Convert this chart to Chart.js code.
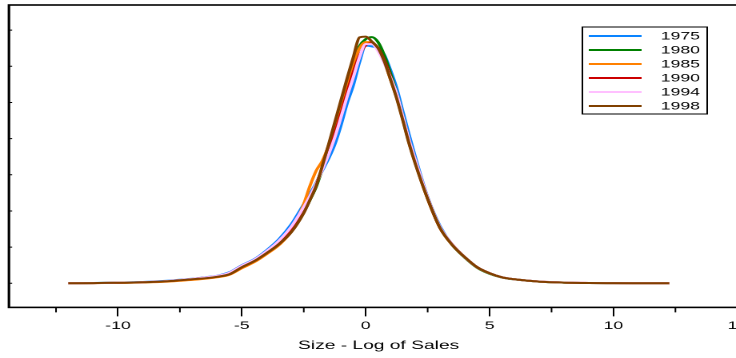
<!DOCTYPE html>
<html><head><meta charset="utf-8">
<script src="https://cdn.jsdelivr.net/npm/chart.js@4/dist/chart.umd.min.js"></script>
<style>
html,body{margin:0;padding:0;overflow:hidden;background:#fff;width:736px;height:358px}
#wrap{position:absolute;left:0;top:0;width:470px;height:358px;transform:scaleX(1.6);transform-origin:0 0}
</style></head>
<body><div id="wrap"><canvas id="c" width="470" height="358"></canvas></div>
<script>
const xValues = [-12,-11,-10,-9,-8,-7.5,-7,-6.5,-6,-5.5,-5,-4.5,-4,-3.5,-3,-2.5,-2.25,-2,-1.75,-1.5,-1.25,-1,-0.75,-0.5,-0.25,0,0.25,0.5,0.75,1,1.25,1.5,1.75,2,2.5,3,3.5,4,4.5,5,5.5,6,7,8,9,10,11,12.25];
const years = ['1975','1980','1985','1990','1994','1998'];
const colors = ['#0A84FF','#008000','#FF8000','#CC0000','#FFC0FF','#804000'];
const s1975 = [0,0.0004,0.0010,0.0018,0.0035,0.0049,0.0063,0.0083,0.0104,0.0153,0.0250,0.0333,0.0458,0.0611,0.0819,0.1097,0.1236,0.1389,0.1556,0.1722,0.1917,0.2181,0.2486,0.2736,0.3056,0.3285,0.3275,0.3250,0.3160,0.2950,0.2700,0.2375,0.2056,0.1750,0.1194,0.0792,0.0528,0.0361,0.0222,0.0139,0.0083,0.0056,0.0024,0.0010,0.0004,0.0002,0.0001,0];
const s1980 = [0,0.0003,0.0007,0.0014,0.0029,0.0042,0.0056,0.0072,0.0094,0.0132,0.0229,0.0313,0.0424,0.0556,0.0722,0.0986,0.1153,0.1333,0.1583,0.1861,0.2139,0.2417,0.2736,0.3042,0.3278,0.3375,0.3403,0.3333,0.3153,0.2903,0.2625,0.2306,0.1972,0.1694,0.1180,0.0771,0.0528,0.0354,0.0215,0.0132,0.0080,0.0054,0.0023,0.0010,0.0004,0.0002,0.0001,0];
const s1985 = [0,0.0002,0.0006,0.0012,0.0024,0.0035,0.0047,0.0063,0.0083,0.0118,0.0208,0.0292,0.0403,0.0528,0.0722,0.1097,0.1347,0.1556,0.1694,0.1903,0.2181,0.2458,0.2764,0.3042,0.3250,0.3333,0.3333,0.3222,0.3056,0.2819,0.2569,0.2264,0.1944,0.1667,0.1167,0.0764,0.0528,0.0361,0.0222,0.0139,0.0083,0.0056,0.0024,0.0010,0.0004,0.0002,0.0001,0];
const s1990 = [0,0.0003,0.0008,0.0015,0.0031,0.0045,0.0060,0.0078,0.0099,0.0143,0.0240,0.0319,0.0438,0.0583,0.0764,0.1028,0.1194,0.1375,0.1583,0.1819,0.2069,0.2347,0.2639,0.2917,0.3153,0.3292,0.3319,0.3250,0.3083,0.2861,0.2597,0.2292,0.1972,0.1694,0.1180,0.0771,0.0535,0.0361,0.0222,0.0139,0.0083,0.0056,0.0025,0.0011,0.0005,0.0002,0.0001,0];
const s1994 = [0,0.0003,0.0009,0.0016,0.0032,0.0046,0.0061,0.0080,0.0101,0.0147,0.0243,0.0326,0.0444,0.0590,0.0785,0.1056,0.1208,0.1375,0.1569,0.1778,0.2014,0.2292,0.2583,0.2847,0.3125,0.3306,0.3306,0.3208,0.3042,0.2847,0.2625,0.2306,0.1986,0.1708,0.1187,0.0778,0.0535,0.0361,0.0222,0.0139,0.0083,0.0056,0.0025,0.0011,0.0005,0.0002,0.0001,0];
const s1998 = [0,0.0003,0.0007,0.0014,0.0028,0.0042,0.0056,0.0069,0.0090,0.0125,0.0222,0.0306,0.0417,0.0542,0.0708,0.0972,0.1153,0.1347,0.1625,0.1917,0.2222,0.2528,0.2833,0.3125,0.3400,0.3410,0.3340,0.3250,0.3069,0.2819,0.2556,0.2250,0.1931,0.1653,0.1167,0.0764,0.0528,0.0361,0.0222,0.0139,0.0083,0.0056,0.0024,0.0010,0.0004,0.0002,0.0001,0];
const xTickValues = [-10,-5,0,5,10,15];
const xMinorTicks = [-12.5,-7.5,-2.5,2.5,7.5,12.5];
const yTickValues = [0,0.05,0.1,0.15,0.2,0.25,0.3,0.35];
const xTitle = 'Size - Log of Sales';

const series = [s1975,s1980,s1985,s1990,s1994,s1998];
const FONT = 'Liberation Sans, Arial, Helvetica, sans-serif';

const datasets = series.map((s,i)=>({
  label: years[i],
  data: xValues.map((x,j)=>({x:x,y:s[j]})),
  borderColor: colors[i],
  backgroundColor: colors[i],
  borderWidth: 2,
  pointRadius: 0,
  fill: false,
  cubicInterpolationMode: 'monotone',
  order: series.length-1-i
}));

const framePlugin = {
  id:'frame',
  afterDraw(chart){
    const ctx = chart.ctx, a = chart.chartArea;
    const xs = chart.scales.x, ys = chart.scales.y;
    ctx.save();
    ctx.strokeStyle = '#000';
    ctx.lineWidth = 1.6;
    ctx.strokeRect(a.left, a.top, a.right-a.left, a.bottom-a.top);
    ctx.lineWidth = 1;
    ctx.beginPath();
    xMinorTicks.forEach(v=>{
      const px = xs.getPixelForValue(v);
      ctx.moveTo(px, a.bottom); ctx.lineTo(px, a.bottom+5);
    });
    yTickValues.forEach(v=>{
      const py = ys.getPixelForValue(v);
      ctx.moveTo(a.left, py); ctx.lineTo(a.left+2, py);
    });
    ctx.stroke();
    // legend
    const bx = 364, by = 27, bw = 78, bh = 87;
    ctx.fillStyle = '#fff';
    ctx.fillRect(bx, by, bw, bh);
    ctx.lineWidth = 1;
    ctx.strokeStyle = '#000';
    ctx.strokeRect(bx, by, bw, bh);
    ctx.font = '11px ' + FONT;
    ctx.textAlign = 'right';
    ctx.textBaseline = 'middle';
    chart.data.datasets.forEach((d,i)=>{
      const y = 36 + 14*i;
      ctx.strokeStyle = d.borderColor;
      ctx.lineWidth = 2;
      ctx.beginPath(); ctx.moveTo(368, y); ctx.lineTo(401, y); ctx.stroke();
      ctx.fillStyle = '#000';
      ctx.fillText(d.label, 437.5, y+0.5);
    });
    ctx.restore();
  }
};

new Chart(document.getElementById('c'), {
  type:'line',
  data:{datasets},
  options:{
    responsive:false,
    devicePixelRatio:2,
    animation:false,
    layout:{padding:{left:5.6, right:2, top:5, bottom:5}},
    plugins:{legend:{display:false}, tooltip:{enabled:false}},
    scales:{
      x:{
        type:'linear', min:-14.4, max:15.44,
        afterBuildTicks: s => { s.ticks = xTickValues.map(v=>({value:v})); },
        ticks:{font:{family:FONT,size:11}, color:'#000', padding:3, maxRotation:0, autoSkip:false, callback:v=>String(v)},
        grid:{drawOnChartArea:false, drawTicks:true, tickLength:9, color:'#000', lineWidth:1},
        border:{display:false},
        title:{display:true, text:xTitle, font:{family:FONT,size:12}, color:'#000', padding:{top:3,bottom:0}}
      },
      y:{type:'linear', min:-0.0333, max:0.3847, display:false}
    }
  },
  plugins:[framePlugin]
});
</script>
</body></html>
